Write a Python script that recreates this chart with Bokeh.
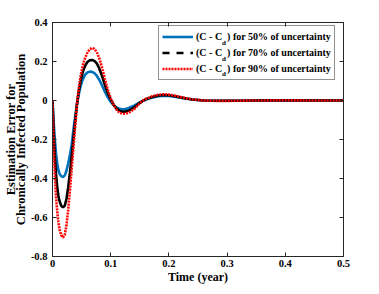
from bokeh.plotting import figure
from bokeh.models import (Range1d, LinearAxis, FixedTicker, Legend, LegendItem,
                          ColumnDataSource)
from bokeh.core.properties import value
from bokeh.embed import file_html
from bokeh.resources import INLINE

# ---------------- data ----------------
time = [0.000, 0.002, 0.004, 0.006, 0.008, 0.010, 0.012, 0.015, 0.018, 0.021,
        0.024, 0.027, 0.030, 0.033, 0.036, 0.039, 0.042, 0.045, 0.048, 0.051,
        0.054, 0.057, 0.060, 0.064, 0.068, 0.072, 0.076, 0.080, 0.085, 0.090,
        0.095, 0.100, 0.105, 0.110, 0.115, 0.120, 0.125, 0.130, 0.140, 0.150,
        0.155, 0.160, 0.170, 0.180, 0.190, 0.200, 0.210, 0.220, 0.230, 0.240,
        0.260, 0.280, 0.300, 0.320, 0.350, 0.400, 0.450, 0.500]

err_50 = [0.000, -0.110, -0.200, -0.270, -0.320, -0.355, -0.375, -0.388, -0.392, -0.385,
          -0.360, -0.322, -0.278, -0.225, -0.150, -0.082, -0.020, 0.030, 0.070, 0.100,
          0.122, 0.136, 0.144, 0.148, 0.147, 0.140, 0.127, 0.108, 0.078, 0.045,
          0.016, -0.007, -0.024, -0.036, -0.043, -0.045, -0.044, -0.040, -0.026, -0.010,
          -0.003, 0.004, 0.014, 0.021, 0.024, 0.023, 0.019, 0.014, 0.009, 0.005,
          0.000, -0.001, -0.001, -0.001, 0.000, 0.001, 0.000, 0.000]

err_70 = [0.000, -0.160, -0.285, -0.375, -0.440, -0.487, -0.515, -0.540, -0.548, -0.540,
          -0.505, -0.445, -0.370, -0.285, -0.195, -0.105, -0.020, 0.045, 0.095, 0.135,
          0.163, 0.183, 0.197, 0.206, 0.208, 0.203, 0.190, 0.167, 0.127, 0.080,
          0.037, 0.004, -0.022, -0.041, -0.052, -0.057, -0.057, -0.053, -0.036, -0.012,
          -0.002, 0.006, 0.017, 0.025, 0.028, 0.027, 0.022, 0.016, 0.010, 0.005,
          0.000, -0.0015, -0.0015, -0.001, 0.000, 0.001, 0.000, 0.000]

err_90 = [0.000, -0.220, -0.380, -0.490, -0.565, -0.620, -0.660, -0.690, -0.703, -0.690,
          -0.640, -0.560, -0.460, -0.350, -0.240, -0.130, -0.020, 0.060, 0.120, 0.165,
          0.200, 0.225, 0.245, 0.263, 0.270, 0.265, 0.248, 0.220, 0.170, 0.110,
          0.055, 0.012, -0.022, -0.047, -0.062, -0.068, -0.068, -0.064, -0.045, -0.014,
          -0.002, 0.008, 0.020, 0.028, 0.032, 0.030, 0.025, 0.018, 0.011, 0.006,
          0.000, -0.002, -0.002, -0.001, 0.000, 0.001, 0.000, 0.000]

x_ticks = [0, 0.1, 0.2, 0.3, 0.4, 0.5]
x_tick_labels = ["0", "0.1", "0.2", "0.3", "0.4", "0.5"]
y_ticks = [-0.8, -0.6, -0.4, -0.2, 0, 0.2, 0.4]
y_tick_labels = ["-0.8", "-0.6", "-0.4", "-0.2", "0", "0.2", "0.4"]

legend_labels = ["(C - C\u2002) for 50% of uncertainty",
                 "(C - C\u2002) for 70% of uncertainty",
                 "(C - C\u2002) for 90% of uncertainty"]
subscripts = ["d", "d", "d"]
x_label = "Time (year)"
y_label = "Estimation Error for\nChronically Infected Population"

# ---------------- figure ----------------
FONT = "Liberation Serif"
AX = "#262626"
X0, X1, Y0, Y1 = 0, 0.5, -0.8, 0.4

p = figure(width=371, height=286, output_backend="svg", toolbar_location=None,
           x_range=Range1d(X0, X1), y_range=Range1d(Y0, Y1),
           min_border_left=50, min_border_right=28, min_border_top=22,
           min_border_bottom=28)
p.background_fill_color = "white"
p.border_fill_color = "white"
p.outline_line_color = AX
p.outline_line_width = 1
p.grid.visible = False

def style_axis(ax, ticks, labels, show):
    ax.ticker = FixedTicker(ticks=ticks, minor_ticks=[])
    ax.major_tick_in = 4
    ax.major_tick_out = 0
    ax.minor_tick_in = 0
    ax.minor_tick_out = 0
    ax.axis_line_color = AX
    ax.major_tick_line_color = AX
    ax.major_label_text_font = FONT
    ax.major_label_text_font_style = "bold"
    ax.major_label_text_font_size = "10.5px"
    ax.major_label_text_color = "black"
    if show:
        ax.major_label_overrides = {t: l for t, l in zip(ticks, labels)}
    else:
        ax.major_label_overrides = {t: "" for t in ticks}
        ax.major_label_standoff = 0

xa = p.xaxis[0]
style_axis(xa, x_ticks, x_tick_labels, True)
xa.major_label_standoff = 3
xa.axis_label = x_label
xa.axis_label_text_font = FONT
xa.axis_label_text_font_style = "bold"
xa.axis_label_text_font_size = "12px"
xa.axis_label_text_color = "black"
xa.axis_label_standoff = 0

ya = p.yaxis[0]
style_axis(ya, y_ticks, y_tick_labels, True)
ya.major_label_standoff = 5
ya.axis_label = y_label
ya.axis_label_text_font = FONT
ya.axis_label_text_font_style = "bold"
ya.axis_label_text_font_size = "12.5px"
ya.axis_label_text_color = "black"
ya.axis_label_text_line_height = 0.72
ya.axis_label_standoff = 0

top_ax = LinearAxis()
style_axis(top_ax, x_ticks, x_tick_labels, False)
p.add_layout(top_ax, "above")
right_ax = LinearAxis()
style_axis(right_ax, y_ticks, y_tick_labels, False)
p.add_layout(right_ax, "right")

# ---------------- lines ----------------
src = ColumnDataSource(dict(t=time, e50=err_50, e70=err_70, e90=err_90))
r50 = p.line("t", "e50", source=src, line_color="#0072BD", line_width=2.6)
r70 = p.line("t", "e70", source=src, line_color="black", line_width=2.6)
r90 = p.line("t", "e90", source=src, line_color="#FF0000", line_width=2.6,
             line_dash="2 1")
# legend sample of the dashed style (single point: draws nothing in the frame)
r70_leg = p.line(x=time[:1], y=err_70[:1], line_color="black", line_width=2.4,
                 line_dash="7 7")

legend = Legend(items=[LegendItem(label=legend_labels[0], renderers=[r50]),
                       LegendItem(label=legend_labels[1], renderers=[r70_leg]),
                       LegendItem(label=legend_labels[2], renderers=[r90])],
                location=(106, 176))
legend.label_text_font = FONT
legend.label_text_font_style = "bold"
legend.label_text_font_size = "10px"
legend.label_text_color = "black"
legend.glyph_width = 31
legend.glyph_height = 15
legend.label_height = 15
legend.label_standoff = 3
legend.spacing = 1
legend.padding = 3
legend.margin = 0
legend.border_line_color = AX
legend.border_line_width = 1
legend.background_fill_alpha = 0   # transparent so the subscripts show through
p.add_layout(legend, "center")

# subscript "d" inside the legend labels (frame pixel geometry -> data units)
FL, FT, PXX, PXY = 52.0, 22.0, 582.0, 236.0 / 1.2
def dx(px):
    return X0 + (px - FL) / PXX
def dy(py):
    return Y1 - (py - FT) / PXY

sub_src = ColumnDataSource(dict(x=[dx(221.6)] * 3,
                                y=[dy(r + 2.5) for r in (40.5, 56.0, 71.5)],
                                text=subscripts))
p.text("x", "y", text="text", source=sub_src, text_font=value(FONT),
       text_font_style="bold", text_font_size="7px", text_color="black",
       text_baseline="middle", text_align="left")

open("out.html", "w").write(file_html(p, INLINE))
